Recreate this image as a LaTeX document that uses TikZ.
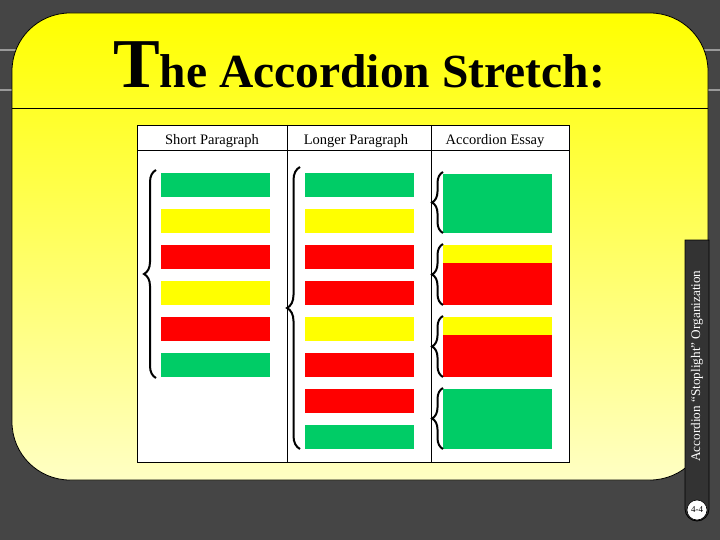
\documentclass[tikz,border=0pt]{standalone}
\usepackage{fontspec}
\setmainfont{Liberation Serif}
\usetikzlibrary{decorations.pathreplacing}
\definecolor{board}{HTML}{454545}
\definecolor{chalk}{HTML}{9A9A9A}
\definecolor{cream}{HTML}{FFFFC4}
\definecolor{sgreen}{HTML}{00CC66}
\definecolor{syellow}{HTML}{FFFF00}
\definecolor{sred}{HTML}{FF0000}
\definecolor{tab}{HTML}{333333}
\tikzset{
  brc/.style={decorate, decoration={brace, amplitude=#1}, line width=2pt, black},
  hdr/.style={font=\fontsize{14.5}{16}\selectfont, anchor=base},
}
\begin{document}
\begin{tikzpicture}[x=1pt,y=-1pt]
\useasboundingbox (0,0) rectangle (720,540);
\fill[board] (0,0) rectangle (720,540);
\draw[chalk, line width=1.5pt] (0,50) -- (720,50) (0,90) -- (720,90);
% panel
\shadedraw[top color=syellow, bottom color=cream, draw=black, line width=0.8pt, rounded corners=58pt] (12,13) rectangle (708,480);
\draw[line width=0.8pt] (12,108) -- (708,108);
% title
\node[anchor=base west, inner sep=0pt] (title) at (113,88) {\bfseries\fontsize{70}{70}\selectfont T\fontsize{47.5}{48}\selectfont he Accordion Stretch:};
% table
\fill[white] (137,125) rectangle (569,462);
\draw[line width=0.8pt] (137,125) rectangle (569,462);
\draw[line width=0.8pt] (137,150) -- (569,150) (287,125) -- (287,462) (431,125) -- (431,462);
\node[hdr] (h1) at (212,145) {Short Paragraph};
\node[hdr] (h2) at (356,145) {Longer Paragraph};
\node[hdr] (h3) at (495,145) {Accordion Essay};
% column 1
\foreach \y/\c in {172.7/sgreen, 208.7/syellow, 244.7/sred, 280.7/syellow, 316.7/sred, 352.7/sgreen}
  \fill[\c] (161,\y) rectangle (270,\y+24);
% column 2
\foreach \y/\c in {172.7/sgreen, 208.7/syellow, 244.7/sred, 280.7/sred, 316.7/syellow, 352.7/sred, 388.7/sred, 424.7/sgreen}
  \fill[\c] (305,\y) rectangle (414,\y+24);
% column 3
\fill[sgreen] (443,174) rectangle (552,233);
\fill[syellow] (443,245) rectangle (552,263);
\fill[sred] (443,263) rectangle (552,305);
\fill[syellow] (443,317) rectangle (552,335);
\fill[sred] (443,335) rectangle (552,377);
\fill[sgreen] (443,389) rectangle (552,449);
% braces
\draw[brc=12pt] (156,378) -- (156,170);
\draw[brc=13pt] (300,449) -- (300,167);
\draw[brc=11pt] (443,233) -- (443,172);
\draw[brc=11pt] (443,305) -- (443,244);
\draw[brc=11pt] (443,377) -- (443,316);
\draw[brc=11pt] (443,449) -- (443,388);
% side tab
\draw[fill=tab, draw=black, line width=0.8pt] (685,240) -- (709,240) [rounded corners=12pt] -- (709,521) -- (685,521) [sharp corners] -- cycle;
\node[rotate=90, text=white, font=\fontsize{13.2}{15}\selectfont] (side) at (697,366) {Accordion “Stoplight” Organization};
\node[circle, fill=white, draw=black, line width=0.6pt, minimum size=20pt, inner sep=0pt, font=\fontsize{9}{10}\selectfont] (pg) at (697,510) {4-4};
\end{tikzpicture}
\end{document}
